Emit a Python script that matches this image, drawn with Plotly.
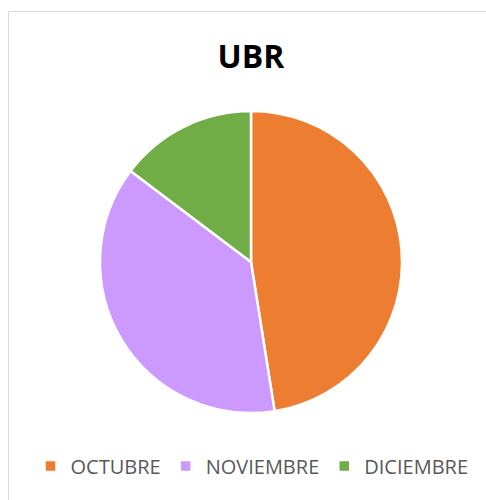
import plotly.graph_objects as go

labels = ["OCTUBRE", "NOVIEMBRE", "DICIEMBRE"]
values = [47.5, 37.8, 14.7]
colors = ["#ED7D31", "#CC99FF", "#70AD47"]

W, H = 486, 500
cx, cy, r = 251, 262, 151

fig = go.Figure(go.Pie(
    labels=labels, values=values, sort=False, direction="clockwise", rotation=0,
    marker=dict(colors=colors, line=dict(color="white", width=2.5)),
    textinfo="none", hoverinfo="label+value",
    domain=dict(x=[(cx - r) / W, (cx + r) / W], y=[(H - cy - r) / H, (H - cy + r) / H]),
))

fig.update_layout(
    width=W, height=H, margin=dict(l=0, r=0, t=0, b=0),
    paper_bgcolor="white", plot_bgcolor="white",
    font=dict(family="Open Sans", color="#595959"),
    title=dict(text="<b>UBR</b>", x=cx / W, xanchor="center", y=1 - 57 / H, yanchor="middle",
               font=dict(size=32, color="black", family="Open Sans")),
    showlegend=True,
    legend=dict(orientation="h", x=252 / W, xanchor="center", y=1 - 466 / H, yanchor="middle",
                font=dict(size=20, color="#595959"), itemwidth=30, traceorder="normal"),
    shapes=[dict(type="rect", xref="paper", yref="paper", x0=8.5 / W, y0=-0.05, x1=1.05, y1=1 - 11.5 / H,
                 line=dict(color="#D9D9D9", width=1), fillcolor="rgba(0,0,0,0)")],
)

fig.write_html("out.html")
